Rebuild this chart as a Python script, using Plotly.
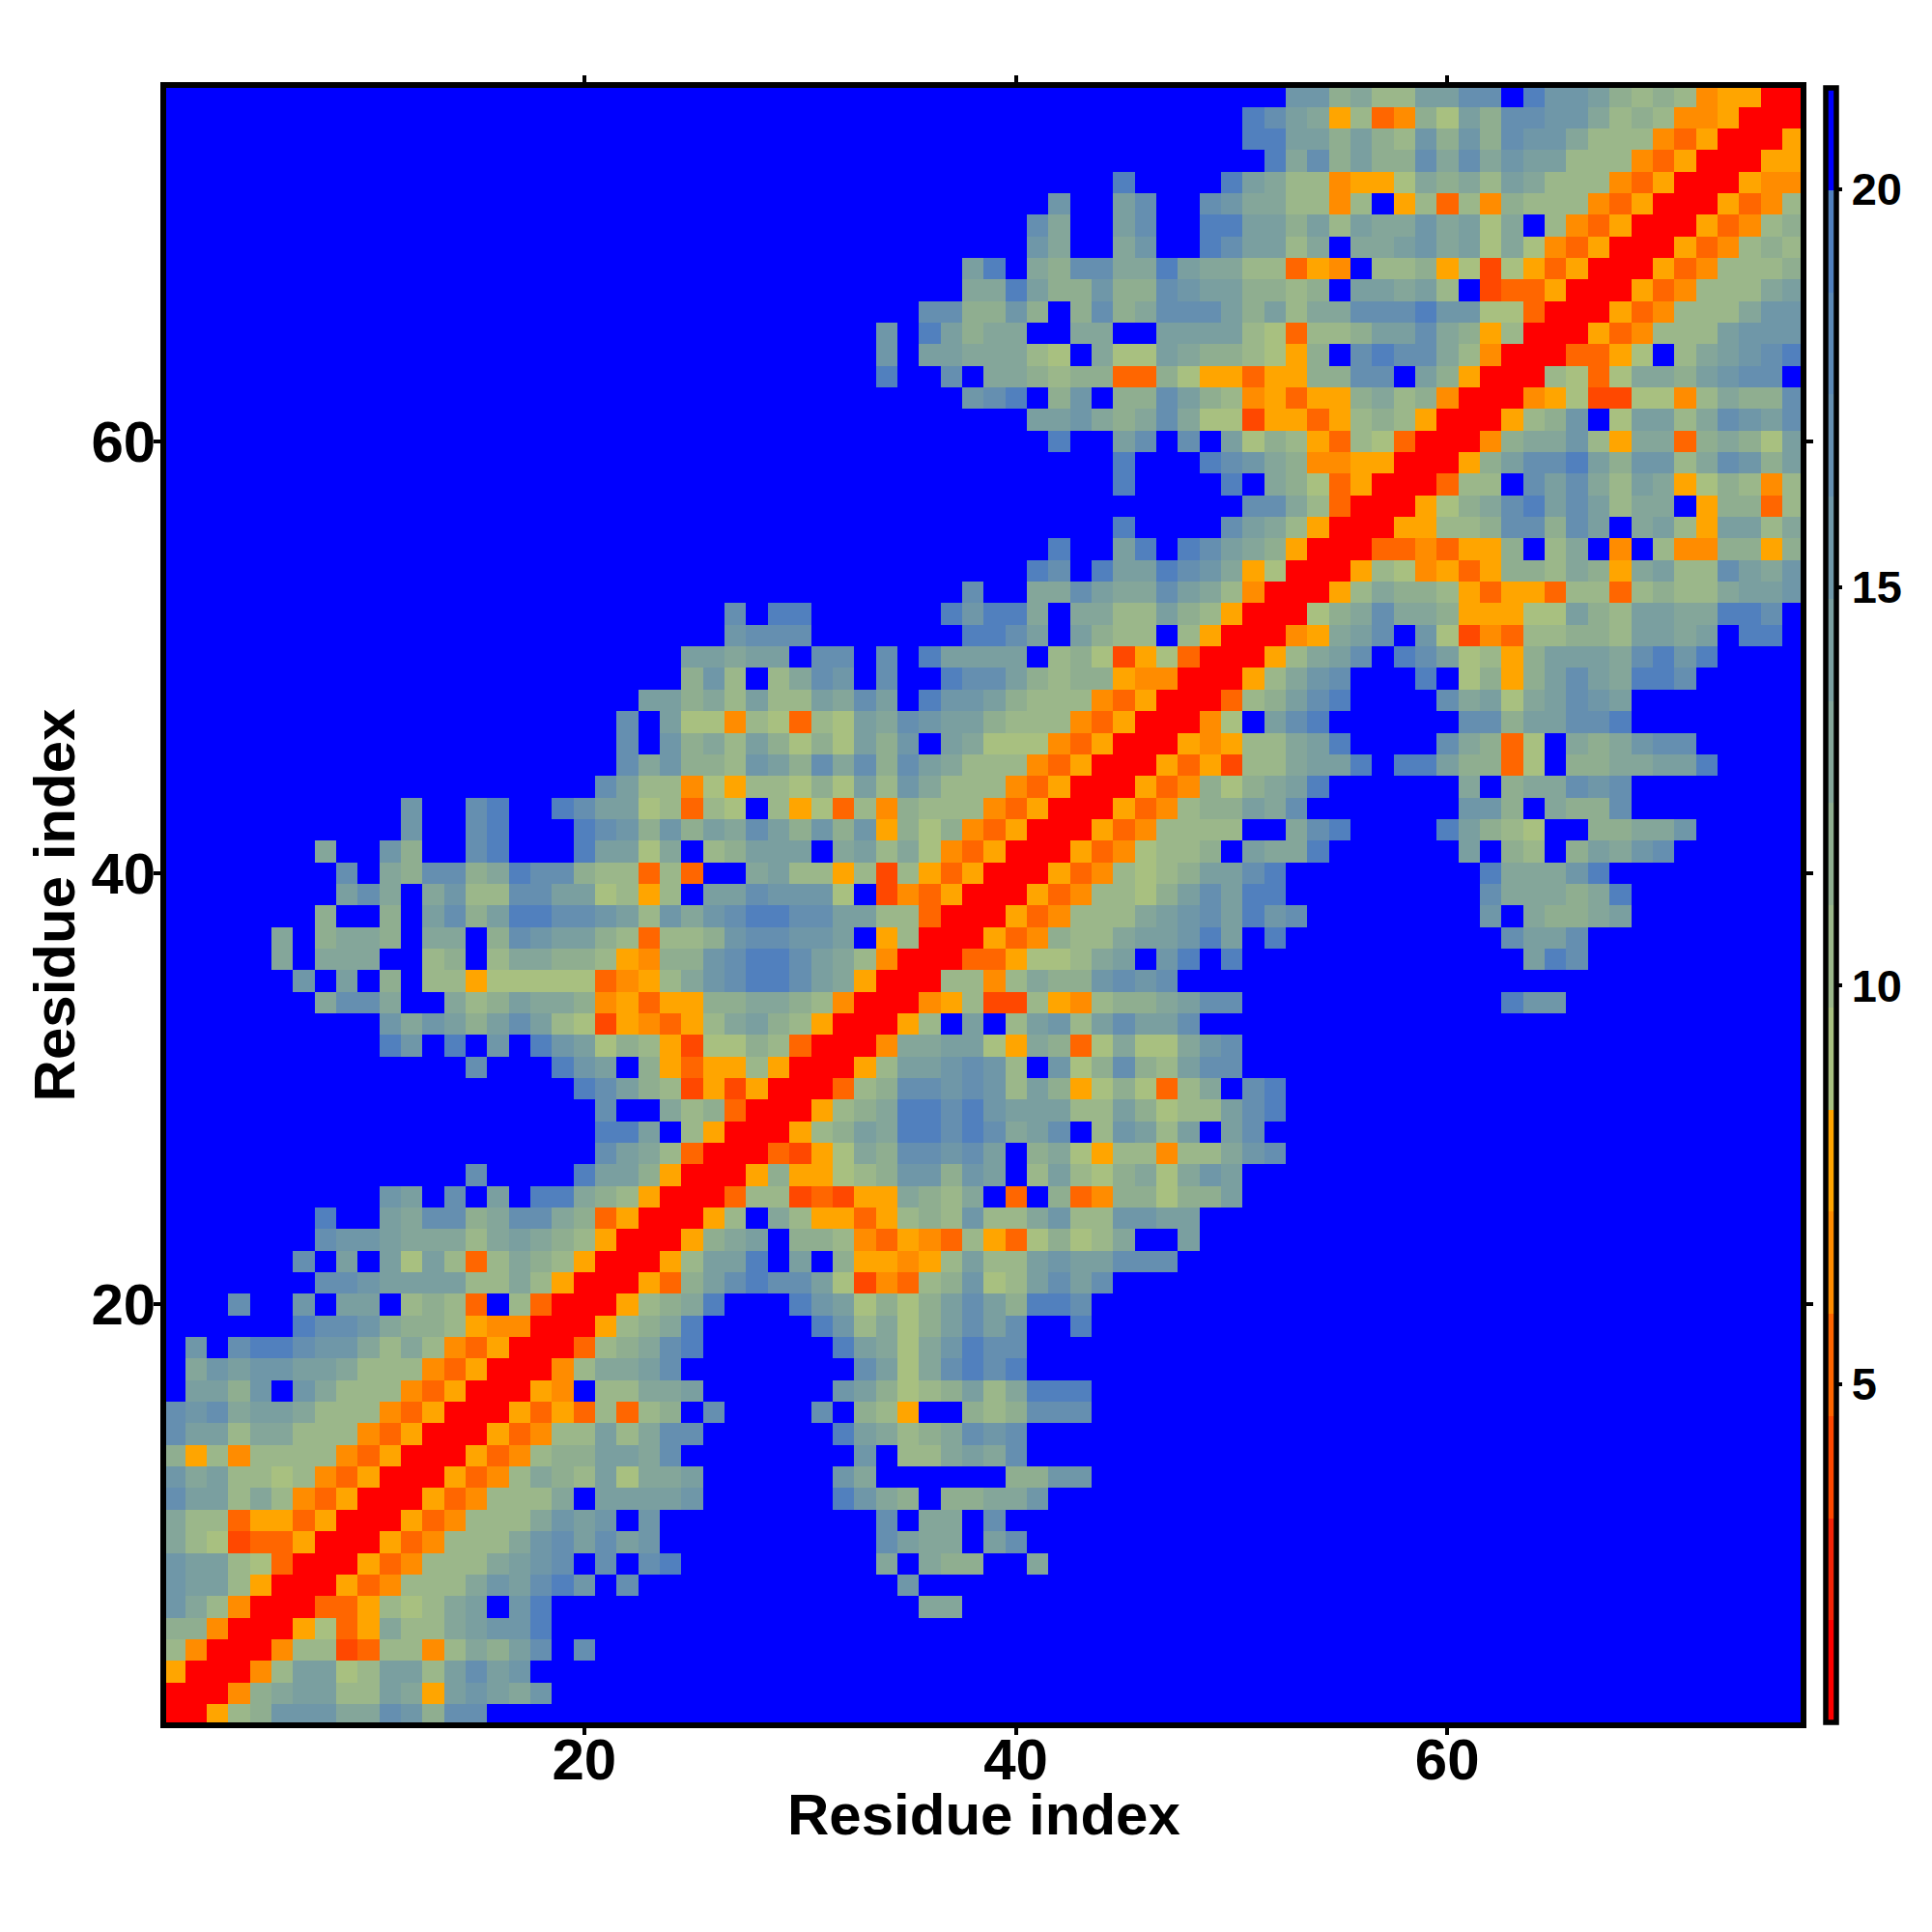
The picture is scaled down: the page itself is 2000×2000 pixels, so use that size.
import plotly.graph_objects as go

N_RESIDUES = 76
ZMIN, ZMAX = 0.75, 21.27
CB_TICKS = [5, 10, 15, 20]
AXIS_TICKS = [20, 40, 60]
AXIS_TITLE = "Residue index"
AXIS_RANGE = [0.623, 76.377]

BAND_COLORS = ["#ff0000", "#f42408", "#ff4800", "#ff6600", "#ff8c00", "#ffa500",
               "#a8c080", "#9bb78a", "#8fae90", "#84a69a", "#7a9fa0", "#6f97a8",
               "#658fb0", "#5c89b6", "#5180be", "#0000ff"]
# one letter per distance band
BAND_OF = {"R": 0, "3": 2, "4": 3, "5": 4, "6": 5, "a": 6, "b": 7, "c": 8, "d": 9,
           "e": 10, "f": 11, "g": 12, "h": 14, ".": 15}

# contact map: row j holds columns up to the diagonal (right aligned; left of it is far = '.')
ROWS = """R
RR
6RR
b5RR
cc5RR
fdb5RR
feeb6RR
feeba4RR
dba3446RR
dbb46646RR
geebdb546RR
fdebbab546RR
c6b5bbbb546RR
geebddbbb546RR
gfgdeedbbb546RR
.eecf.fdbbb546RR
.dfeffeedbbb546RR
.f.ghhgffdbdb546RR
hggfdccb655RR
g..f.ee.bcb4.b4RR
ggfeeeebbdb6RR
g.e.eaeb4bdcb6RR
gffedddbdedcb6RR
h..edggcdggdc46RR
fe.g.e.hhdcb6RR
g....heec6RR
gedb4RR
hhe.b6RR
g..dbc4RR
hgecb3636RR
g...hfe.c6466b6RR
hf.h.f.hfeacb63aacb4RR
fdfecegeba36546bdecb6RR
dggd..dbceddc56466ccddcb5RR
f.e.c.bb6aaaaa456bdfghhged6RR
d.ddd..bc.bddccb65ccfghhgedb5RR
d.cddc.dd.cgfeecb4bbcfggffe.6bRR
c..c.egcehhggfebfdfghhggeebb4RR
egd.dfbbggeeab6b.eegfffa.3546RR
g.dcggcdhggcbb4b4..debb6b3b646RR
d..fc..gh...heead.bceee.debda546RR
f..gh...hgfcfcedgecfcf6cac546RR
f..gh..hgeeab4ba.b6a4b5cbbb546RR
gebb5a6bbacaebfdbbb546RR
gdfccbfecgdgcgedbbb546RR
g.fcdbecacaecf.edaaa546RR
g.eaa5ba4baedgfeecbbb546RR
eecdbebbedge.hffecbbb546RR
cfb.bdgf.g..hggecbcc655RR
eedee.gg.g.heeee.bca36a4RR
fggg.......hhge.ecbb.b6RR
g.hh......hfhhd.ddbbecb6RR
g..ddgeddgedb5RR
hg.heehgfd6aRR
h..eh.hgedc6RR
h....gedb6RR
ggdb4RR
h....h.dca46RR
h...hgfdc5566RR
h..eg.g.eacb64ba4RR
eefdcdgdaa36646bcb6RR
fgh.cf.ccgecb56466cdbc5RR
h..g.ddcbcc44ca66466ccgg.ec6RR
f.eedddba.daaedccba6c.ghggdb5RR
f.hecdd..dd..eeeeba4bbceegdc6bRR
ggccfc.cgcdgggecebddggghffaa4RR
ddheccfccgfeeccbc.eedeb.3446RR
eh.dcggddheddbb465.bbc6a3a646RR
fd..df..hgeebd.ddefdeada546RR
gd..eg..hheecebeddfdead.b546RR
f..eg..gfddbb5b.6b4b5cbbb546RR
h....hedbb566adcdbedbbb546RR
hdgceccgdgdfeebbb546RR
hheececbfcfcgffdbbb546RR
hged6b45caecggffdbcb556RR
ffcdbbeegg.hffecbcb566RR""".split("\n")

n_bands = len(BAND_COLORS)
step = (ZMAX - ZMIN) / n_bands
z = [[ZMIN + (BAND_OF["."] + 0.5) * step] * N_RESIDUES for _ in range(N_RESIDUES)]
for j, tail in enumerate(ROWS, start=1):
    assert len(tail) <= j, (j, len(tail))
    row = tail.rjust(j, ".")
    for i, ch in enumerate(row):
        val = ZMIN + (BAND_OF[ch] + 0.5) * step
        z[j - 1][i] = val
        z[i][j - 1] = val

scale = []
for k, c in enumerate(BAND_COLORS):
    scale.append([k / n_bands, c])
    scale.append([(k + 1) / n_bands, c])

idx = list(range(1, N_RESIDUES + 1))
BOLD = dict(family="Liberation Sans", color="black", weight=700)

fig = go.Figure(go.Heatmap(
    x=idx, y=idx, z=z, zmin=ZMIN, zmax=ZMAX, colorscale=scale, zsmooth=False,
    hoverinfo="skip",
    colorbar=dict(
        x=1.0152, xanchor="left", xpad=0, ypad=0, y=0.5, yanchor="middle",
        len=1.0, lenmode="fraction", thickness=11, thicknessmode="pixels",
        outlinecolor="black", outlinewidth=5.5, borderwidth=0,
        tickmode="array", tickvals=CB_TICKS, ticktext=[str(t) for t in CB_TICKS],
        ticks="outside", ticklen=4, tickwidth=4, tickcolor="black",
        tickfont=dict(size=47, **BOLD),
    ),
))

axis = dict(
    showgrid=False, zeroline=False, showline=True, linecolor="black", linewidth=5.5,
    mirror="ticks", ticks="outside", ticklen=7, tickwidth=4, tickcolor="black",
    tickmode="array", tickvals=AXIS_TICKS, ticktext=[str(t) for t in AXIS_TICKS],
    range=AXIS_RANGE, constrain="domain",
)
fig.update_layout(
    width=2000, height=2000, autosize=False,
    margin=dict(l=172, r=136, t=91, b=217, pad=0),
    paper_bgcolor="white", plot_bgcolor="white",
    xaxis=dict(axis, tickfont=dict(size=60, **BOLD), ticklabelstandoff=-26),
    yaxis=dict(axis, tickfont=dict(size=60, **BOLD), ticklabelstandoff=-14,
               title=dict(text=AXIS_TITLE, font=dict(size=60, **BOLD), standoff=0)),
    annotations=[dict(text=AXIS_TITLE, xref="paper", yref="paper", x=0.5, y=0,
                      xanchor="center", yanchor="middle", yshift=-95, showarrow=False,
                      font=dict(size=60, **BOLD))],
)
fig.write_html("out.html", config={"displayModeBar": False},
               post_script="document.body.style.margin='0';")
